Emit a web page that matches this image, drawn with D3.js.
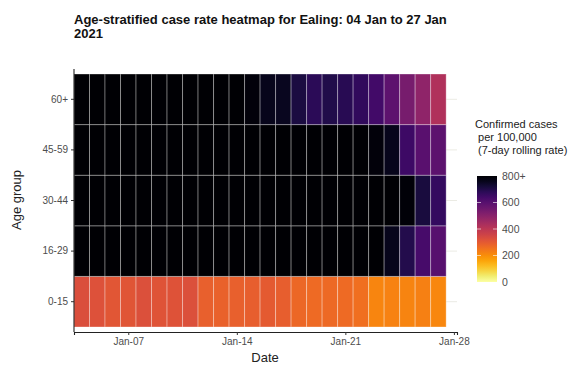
<!DOCTYPE html>
<html>
<head>
<meta charset="utf-8">
<script src="https://cdn.jsdelivr.net/npm/d3@7"></script>
<style>
  html, body { margin: 0; padding: 0; background: #fff; }
  text { font-family: "Liberation Sans", Arial, Helvetica, sans-serif; }
</style>
</head>
<body>
<svg id="chart" width="581" height="372"></svg>
<script>
// ---- data ----
const ageGroups = ["0-15", "16-29", "30-44", "45-59", "60+"];
const dates = ["2021-01-04","2021-01-05","2021-01-06","2021-01-07","2021-01-08","2021-01-09",
  "2021-01-10","2021-01-11","2021-01-12","2021-01-13","2021-01-14","2021-01-15",
  "2021-01-16","2021-01-17","2021-01-18","2021-01-19","2021-01-20","2021-01-21",
  "2021-01-22","2021-01-23","2021-01-24","2021-01-25","2021-01-26","2021-01-27"];
const rate_0_15  = [328,320,308,310,322,315,318,325,285,282,285,290,300,290,270,265,268,263,255,215,220,218,222,212];
const rate_16_29 = [1450,1440,1420,1400,1380,1350,1320,1280,1240,1200,1150,1110,1070,1030,990,950,910,870,840,815,760,695,630,600];
const rate_30_44 = [1250,1240,1230,1220,1200,1180,1150,1120,1090,1060,1030,1000,980,950,930,900,880,860,840,820,805,790,715,665];
const rate_45_59 = [1200,1190,1180,1160,1140,1110,1080,1050,1020,990,960,940,920,900,880,860,840,820,800,785,760,650,595,590];
const rate_60p   = [1150,1120,1100,1080,1050,1000,960,930,900,860,830,785,760,755,710,680,700,685,670,640,585,535,490,425];
const seriesByAge = { "0-15": rate_0_15, "16-29": rate_16_29, "30-44": rate_30_44, "45-59": rate_45_59, "60+": rate_60p };
const xTickDates = ["2021-01-07","2021-01-14","2021-01-21","2021-01-28"];
const legendTicks = [0, 200, 400, 600, 800];
const legendTickLabels = ["0", "200", "400", "600", "800+"];

// ---- setup ----
const parse = d3.utcParse("%Y-%m-%d");
const svg = d3.select("#chart");
const HALF = 12 * 3600 * 1000;

const cells = [];
ageGroups.forEach(a => seriesByAge[a].forEach((v, i) => cells.push({ age: a, date: parse(dates[i]), value: v })));

const x = d3.scaleUtc()
  .domain([new Date(parse("2021-01-04") - HALF), new Date(+parse("2021-01-28") + 0.2 * 2 * HALF)])
  .range([74, 457]);
const y = d3.scaleBand().domain(ageGroups.slice().reverse()).range([74, 327]).padding(0);
const color = v => d3.interpolateInferno(1 - Math.min(v, 800) / 800);

// gridlines (horizontal, at row centres)
svg.append("g").selectAll("line").data(ageGroups).join("line")
  .attr("x1", 74).attr("x2", 457)
  .attr("y1", d => y(d) + y.bandwidth() / 2).attr("y2", d => y(d) + y.bandwidth() / 2)
  .attr("stroke", "#ebebe4").attr("stroke-width", 1);

// tiles
svg.append("g").selectAll("rect").data(cells).join("rect")
  .attr("x", d => x(new Date(d.date - HALF)))
  .attr("width", d => x(new Date(+d.date + HALF)) - x(new Date(d.date - HALF)))
  .attr("y", d => y(d.age))
  .attr("height", y.bandwidth())
  .attr("fill", d => color(d.value))
  .attr("stroke", "rgba(255,255,255,0.32)")
  .attr("stroke-width", 1);

// x axis
const xAxis = svg.append("g").attr("transform", "translate(0,332)")
  .call(d3.axisBottom(x).tickValues(xTickDates.map(parse)).tickFormat(d3.utcFormat("%b-%d")).tickSizeOuter(0).tickSize(3).tickPadding(3));
xAxis.select(".domain").attr("stroke", "#222").attr("stroke-width", 1.1);
xAxis.selectAll(".tick line").attr("stroke", "#333");
xAxis.selectAll(".tick text").attr("fill", "#4d4d4d").style("font-size", "10px");

// y axis
const yAxis = svg.append("g").attr("transform", "translate(74,0)")
  .call(d3.axisLeft(y).tickSize(3).tickPadding(3).tickSizeOuter(0));
yAxis.select(".domain").remove();
yAxis.append("line").attr("x1", 0).attr("x2", 0).attr("y1", 69).attr("y2", 332).attr("stroke", "#222").attr("stroke-width", 1.1);
yAxis.selectAll(".tick line").attr("stroke", "#333");
yAxis.selectAll(".tick text").attr("fill", "#4d4d4d").style("font-size", "10px");

// axis titles
svg.append("text").attr("x", 265).attr("y", 362).attr("text-anchor", "middle")
  .style("font-size", "13px").attr("fill", "#222").text("Date");
svg.append("text").attr("transform", "translate(21,200) rotate(-90)").attr("text-anchor", "middle")
  .style("font-size", "13px").attr("fill", "#222").text("Age group");

// title
const title = svg.append("text").attr("x", 74).attr("y", 24).style("font-size", "13px").style("font-weight", "bold").attr("fill", "#111");
title.append("tspan").attr("x", 74).attr("dy", 0).text("Age-stratified case rate heatmap for Ealing: 04 Jan to 27 Jan");
title.append("tspan").attr("x", 74).attr("dy", 14).text("2021");

// legend
const lt = svg.append("text").attr("x", 475).attr("y", 128).style("font-size", "11px").attr("fill", "#222");
["Confirmed cases", " per 100,000", " (7-day rolling rate)"].forEach((s, i) =>
  lt.append("tspan").attr("x", 475).attr("dy", i ? 13 : 0).text(s.replace(/^ /, "\u00a0")));

const ly = d3.scaleLinear().domain([0, 800]).range([282, 176]);
const defs = svg.append("defs");
const grad = defs.append("linearGradient").attr("id", "lg").attr("x1", 0).attr("x2", 0).attr("y1", 1).attr("y2", 0);
d3.range(0, 1.0001, 0.05).forEach(t => grad.append("stop").attr("offset", t).attr("stop-color", color(t * 800)));
svg.append("rect").attr("x", 477).attr("y", ly(800)).attr("width", 20).attr("height", ly(0) - ly(800)).attr("fill", "url(#lg)");
svg.append("g").selectAll("line").data(legendTicks.slice(1, -1)).join("line")
  .attr("x1", 477).attr("x2", 481).attr("y1", d => ly(d)).attr("y2", d => ly(d)).attr("stroke", "rgba(255,255,255,0.6)");
svg.append("g").selectAll("line").data(legendTicks.slice(1, -1)).join("line")
  .attr("x1", 493).attr("x2", 497).attr("y1", d => ly(d)).attr("y2", d => ly(d)).attr("stroke", "rgba(255,255,255,0.6)");
svg.append("g").selectAll("text").data(legendTicks).join("text")
  .attr("x", 502).attr("y", d => ly(d)).attr("dy", "0.35em")
  .style("font-size", "10.5px").attr("fill", "#4d4d4d")
  .text((d, i) => legendTickLabels[i]);
</script>
</body>
</html>
